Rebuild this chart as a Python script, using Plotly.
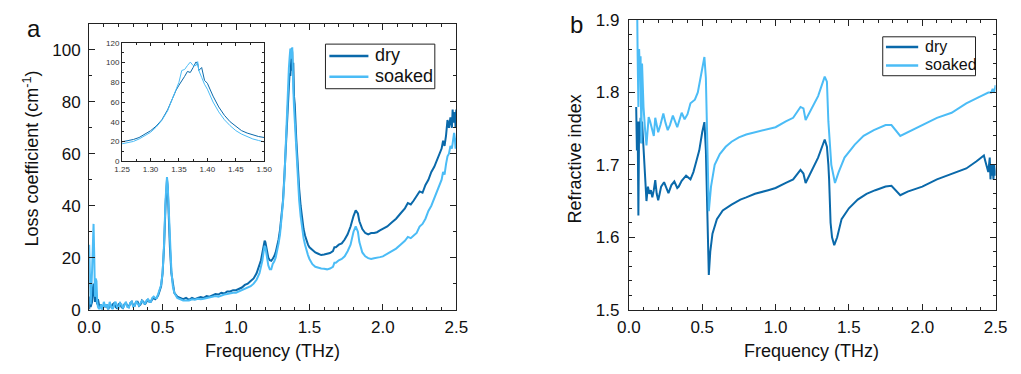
import plotly.graph_objects as go

W, H = 1021, 374

# ---------------- Panel a: loss coefficient (cm^-1) ----------------
FREQ_A_LOW = [0.00, 0.005, 0.01, 0.02, 0.025, 0.03, 0.035, 0.04, 0.045, 0.05, 0.055, 0.06, 0.07, 0.08, 0.09,
              0.10, 0.11, 0.12, 0.13, 0.14, 0.15, 0.16, 0.17, 0.18, 0.19, 0.20, 0.21, 0.22, 0.23, 0.24, 0.25,
              0.26, 0.27, 0.28, 0.29, 0.30, 0.31, 0.32, 0.33, 0.34, 0.35, 0.36, 0.37, 0.38, 0.39, 0.40, 0.41,
              0.42, 0.43, 0.44, 0.45, 0.46, 0.47, 0.48, 0.49, 0.50, 0.51, 0.52, 0.525, 0.53, 0.535, 0.54, 0.55,
              0.56, 0.57, 0.58, 0.60, 0.62, 0.64, 0.66, 0.68, 0.70, 0.72, 0.74, 0.76, 0.78, 0.80, 0.82, 0.84,
              0.86, 0.88, 0.90, 0.92, 0.94, 0.96, 0.98, 1.00, 1.02, 1.04, 1.06, 1.08, 1.10, 1.12, 1.14, 1.16,
              1.17, 1.18, 1.19, 1.195, 1.20, 1.21, 1.22, 1.23, 1.24]
DRY_A_LOW = [0, 5, 1, 3, 8, 10, 6, 3, 5, 4, 2, 4, 1, 2, 0,
             2, 1, 2, 0, 2, 1, 2, 2.5, 1, 0.5, 2, 2.5, 1, 0.5, 2, 2.5,
             1.5, 1, 2.5, 3, 1.5, 1.5, 3, 3, 1.5, 2, 3.5, 3, 2, 3, 4, 3,
             3, 4, 4.5, 4, 4.5, 5.5, 7, 9, 14, 24, 40, 48, 50, 47, 38, 24,
             14, 9, 6.5, 5, 4.5, 4, 4.5, 3.8, 4.5, 4, 4.5, 4.8, 4.5, 5.2, 5, 5.5,
             6, 5.8, 6.5, 6.2, 7, 7, 7.5, 7.5, 8, 8.5, 9.5, 10, 11, 12, 14, 17,
             19, 22, 25.5, 26.5, 26, 23, 20, 19, 18.8]
SOAK_A_LOW = [25, 10, 2, 15, 30, 33, 20, 5, 12, 11, 3, 1, 0, 2, 0,
              3, 1, 2, 0, 3, 1, 0, 2, 3, 1, 0.5, 2.5, 2, 0.5, 1.5, 3,
              1, 0.8, 2.5, 3, 1.2, 1.5, 3.2, 2.5, 1.5, 2.5, 3.5, 2.5, 2.2, 3.5, 4, 3,
              3, 4.5, 5, 4.5, 4.5, 6, 7.5, 9.5, 14, 25, 42, 49, 51, 48, 40, 26,
              15, 9, 6.5, 4.5, 4, 3.5, 3.5, 3.5, 4, 3.8, 4.2, 4, 4.2, 4.5, 4.8, 5,
              5.2, 5, 5.5, 5.8, 6, 6.3, 6.5, 6.5, 7, 7.5, 8, 8.5, 9, 10, 11.5, 14,
              16, 19, 23, 24.5, 24, 20, 17, 15.5, 15.5]

# Peak region (also shown in the inset)
FREQ_PEAK = [1.25, 1.26, 1.27, 1.28, 1.29, 1.30, 1.31, 1.32, 1.33, 1.335, 1.34, 1.345, 1.35, 1.355, 1.36,
             1.365, 1.37, 1.375, 1.38, 1.383, 1.385, 1.39, 1.395, 1.40, 1.41, 1.42, 1.43, 1.44, 1.45, 1.46,
             1.47, 1.48, 1.49, 1.50]
DRY_PEAK = [19.6, 20.5, 22, 24, 27, 30.8, 35.5, 42, 52, 58.5, 66, 72, 77, 81, 86,
            91, 90, 95, 100.7, 99, 92, 95, 82, 79, 66, 55, 46.5, 40, 35, 31,
            28.5, 26.5, 25, 24]
SOAK_PEAK = [17.6, 18.5, 20, 22.5, 25.5, 29.2, 34.5, 41.4, 51, 58, 65, 72, 80, 92, 93,
             97, 100.5, 97, 97, 101, 92, 85, 78, 73, 60, 50, 42, 36, 31, 27.5,
             25, 22.5, 21, 19.5]

FREQ_A_HIGH = [1.52, 1.54, 1.56, 1.58, 1.60, 1.62, 1.64, 1.66, 1.67, 1.68, 1.69, 1.70, 1.72, 1.74, 1.76,
               1.78, 1.80, 1.815, 1.83, 1.84, 1.86, 1.88, 1.90, 1.92, 1.94, 1.96, 1.98, 2.00, 2.03, 2.06,
               2.09, 2.12, 2.15, 2.17, 2.19, 2.21, 2.23, 2.25, 2.27, 2.29, 2.31, 2.33, 2.35, 2.37, 2.39,
               2.40, 2.41, 2.42, 2.43, 2.44, 2.45, 2.46, 2.47, 2.475, 2.48, 2.485, 2.49, 2.495, 2.50]
DRY_A_HIGH = [23, 22, 21.5, 21, 21.2, 21.5, 21.8, 22.5, 24, 24, 24.5, 25, 25.5, 27, 29,
              32, 36, 38.2, 37, 34, 31, 29.5, 29, 29.5, 29.5, 29.8, 30.5, 31, 32, 33.5,
              35, 37, 39, 41, 40.5, 42, 44, 45.5, 45, 48, 50, 53, 55, 58, 61,
              62, 65, 63, 67, 73, 70, 74, 70, 77, 72, 75, 76, 70, 77]
SOAK_A_HIGH = [17.5, 16.5, 16, 15.8, 15.7, 15.5, 15.8, 16.5, 18, 18, 18.5, 19, 19.5, 20.5, 22.5,
               25, 30, 32, 30, 26, 22, 20.5, 19.8, 19.5, 19.8, 19.9, 20.2, 20.5, 21.5, 22.5,
               23.5, 25, 26.5, 28, 27.5, 28.5, 29.5, 32, 33, 35, 38, 40, 43, 46, 49,
               50, 53, 52, 56, 59, 60, 63, 62, 64, 66, 68, 66, 62, 66]

# ---------------- Panel b: refractive index ----------------
FREQ_B_DRY = [0.05, 0.055, 0.06, 0.065, 0.07, 0.075, 0.08, 0.085, 0.09, 0.095, 0.10, 0.105, 0.11, 0.12, 0.13,
              0.14, 0.15, 0.16, 0.17, 0.18, 0.19, 0.20, 0.21, 0.22, 0.24, 0.26, 0.27, 0.29, 0.31, 0.33,
              0.34, 0.36, 0.39, 0.42, 0.44, 0.46, 0.48, 0.50, 0.515, 0.525, 0.535, 0.545, 0.555, 0.57, 0.60,
              0.64, 0.70, 0.76, 0.80, 0.86, 0.95, 1.00, 1.07, 1.12, 1.17, 1.19, 1.205, 1.24, 1.29, 1.335,
              1.35, 1.36, 1.365, 1.375, 1.385, 1.40, 1.42, 1.45, 1.50, 1.56, 1.62, 1.68, 1.75, 1.79, 1.85,
              1.90, 2.00, 2.10, 2.20, 2.30, 2.37, 2.42, 2.43, 2.44, 2.45, 2.46, 2.465, 2.47, 2.475, 2.48,
              2.485, 2.49, 2.495, 2.50]
N_DRY = [1.78, 1.72, 1.76, 1.63, 1.76, 1.74, 1.765, 1.73, 1.76, 1.74, 1.72, 1.70, 1.69, 1.65, 1.67,
         1.66, 1.665, 1.655, 1.665, 1.679, 1.66, 1.651, 1.66, 1.67, 1.676, 1.665, 1.661, 1.672, 1.677, 1.668,
         1.670, 1.678, 1.685, 1.68, 1.69, 1.705, 1.72, 1.745, 1.759, 1.72, 1.63, 1.548, 1.58, 1.605, 1.625,
         1.637, 1.645, 1.652, 1.655, 1.66, 1.665, 1.668, 1.675, 1.68, 1.693, 1.688, 1.675, 1.69, 1.71, 1.735,
         1.725, 1.70, 1.68, 1.62, 1.60, 1.589, 1.60, 1.625, 1.64, 1.652, 1.66, 1.665, 1.67, 1.671, 1.658,
         1.663, 1.670, 1.68, 1.687, 1.695, 1.705, 1.713, 1.705, 1.695, 1.69, 1.71, 1.68, 1.70, 1.685, 1.70,
         1.68, 1.70, 1.69, 1.685]

FREQ_B_SOAK = [0.05, 0.055, 0.06, 0.065, 0.07, 0.075, 0.08, 0.085, 0.09, 0.095, 0.10, 0.11, 0.12, 0.125, 0.135,
               0.145, 0.15, 0.16, 0.17, 0.18, 0.19, 0.20, 0.215, 0.235, 0.25, 0.265, 0.28, 0.30, 0.315, 0.33,
               0.345, 0.36, 0.38, 0.40, 0.42, 0.45, 0.47, 0.49, 0.50, 0.515, 0.525, 0.535, 0.545, 0.56, 0.585,
               0.62, 0.66, 0.70, 0.75, 0.80, 0.86, 0.95, 1.00, 1.07, 1.12, 1.17, 1.19, 1.205, 1.24, 1.29,
               1.335, 1.35, 1.36, 1.37, 1.38, 1.405, 1.43, 1.47, 1.54, 1.60, 1.67, 1.75, 1.79, 1.85, 1.90,
               2.00, 2.10, 2.20, 2.30, 2.40, 2.45, 2.47, 2.48, 2.49, 2.50]
N_SOAK = [1.92, 1.95, 1.85, 1.78, 1.86, 1.83, 1.85, 1.73, 1.84, 1.79, 1.78, 1.75, 1.727, 1.74, 1.766,
          1.76, 1.755, 1.745, 1.74, 1.765, 1.755, 1.745, 1.755, 1.771, 1.758, 1.748, 1.755, 1.768, 1.76, 1.752,
          1.762, 1.772, 1.763, 1.77, 1.785, 1.79, 1.80, 1.82, 1.83, 1.849, 1.82, 1.72, 1.636, 1.67, 1.70,
          1.715, 1.725, 1.732, 1.738, 1.742, 1.745, 1.75, 1.752, 1.76, 1.765, 1.78, 1.778, 1.762, 1.775, 1.795,
          1.822, 1.815, 1.76, 1.72, 1.70, 1.675, 1.69, 1.71, 1.728, 1.74, 1.748, 1.755, 1.755, 1.74, 1.745,
          1.755, 1.765, 1.772, 1.785, 1.795, 1.80, 1.80, 1.805, 1.80, 1.81]

SERIES_NAMES = ["dry", "soaked"]
X_TICKS = [0.0, 0.5, 1.0, 1.5, 2.0, 2.5]
X_TICK_TEXT = ["0.0", "0.5", "1.0", "1.5", "2.0", "2.5"]
INSET_X_TICKS = [1.25, 1.30, 1.35, 1.40, 1.45, 1.50]
INSET_X_TEXT = ["1.25", "1.30", "1.35", "1.40", "1.45", "1.50"]

DRY_COLOR = "#0a69aa"
SOAK_COLOR = "#4bbcf6"
COLORS = [DRY_COLOR, SOAK_COLOR]
FONT = "Liberation Sans, Arial, sans-serif"
INK = "#111"

freq_a = FREQ_A_LOW + FREQ_PEAK + FREQ_A_HIGH
dry_a = DRY_A_LOW + DRY_PEAK + DRY_A_HIGH
soak_a = SOAK_A_LOW + SOAK_PEAK + SOAK_A_HIGH


def px_x(p):
    return p / W


def px_y(p):
    return 1 - p / H


fig = go.Figure()

# Panel a
fig.add_trace(go.Scatter(x=freq_a, y=dry_a, mode="lines", name=SERIES_NAMES[0],
                         line=dict(color=DRY_COLOR, width=2), xaxis="x", yaxis="y"))
fig.add_trace(go.Scatter(x=freq_a, y=soak_a, mode="lines", name=SERIES_NAMES[1],
                         line=dict(color=SOAK_COLOR, width=2), xaxis="x", yaxis="y"))
# Inset
fig.add_trace(go.Scatter(x=FREQ_PEAK, y=DRY_PEAK, mode="lines", name=SERIES_NAMES[0],
                         line=dict(color=DRY_COLOR, width=1), xaxis="x3", yaxis="y3"))
fig.add_trace(go.Scatter(x=FREQ_PEAK, y=SOAK_PEAK, mode="lines", name=SERIES_NAMES[1],
                         line=dict(color=SOAK_COLOR, width=1), xaxis="x3", yaxis="y3"))
# Panel b
fig.add_trace(go.Scatter(x=FREQ_B_DRY, y=N_DRY, mode="lines", name=SERIES_NAMES[0],
                         line=dict(color=DRY_COLOR, width=2), xaxis="x2", yaxis="y2"))
fig.add_trace(go.Scatter(x=FREQ_B_SOAK, y=N_SOAK, mode="lines", name=SERIES_NAMES[1],
                         line=dict(color=SOAK_COLOR, width=2), xaxis="x2", yaxis="y2"))

axis_common = dict(showline=True, linecolor="#222", linewidth=1, mirror="allticks",
                   ticks="inside", ticklen=6, tickcolor="#222", tickwidth=1,
                   showgrid=False, zeroline=False,
                   tickfont=dict(family=FONT, size=17, color=INK))

fig.update_layout(
    width=W, height=H,
    margin=dict(l=0, r=0, t=0, b=0),
    paper_bgcolor="white", plot_bgcolor="white",
    font=dict(family=FONT, color=INK),
    showlegend=False,
    xaxis=dict(axis_common, domain=[px_x(79), px_x(455)], range=[0, 2.5], anchor="y",
               tickvals=X_TICKS, ticktext=X_TICK_TEXT, ticklabelstandoff=2,
               minor=dict(dtick=0.1, ticks="inside", ticklen=3, tickcolor="#222")),
    yaxis=dict(axis_common, domain=[px_y(316.7), px_y(15.7)], range=[0, 110], anchor="x",
               dtick=20, ticklabelstandoff=4,
               minor=dict(dtick=10, ticks="inside", ticklen=3, tickcolor="#222")),
    xaxis2=dict(axis_common, domain=[px_x(631.7), px_x(1007.3)], range=[0, 2.5], anchor="y2",
                tickvals=X_TICKS, ticktext=X_TICK_TEXT, ticklabelstandoff=2,
                minor=dict(dtick=0.1, ticks="inside", ticklen=3, tickcolor="#222")),
    yaxis2=dict(axis_common, domain=[px_y(316.7), px_y(11.7)], range=[1.5, 1.9], anchor="x2",
                dtick=0.1, tickformat=".1f", ticklabelstandoff=5,
                minor=dict(dtick=0.02, ticks="inside", ticklen=3, tickcolor="#222")),
    xaxis3=dict(axis_common, domain=[px_x(112.7), px_x(258.3)], range=[1.25, 1.5], anchor="y3",
                tickvals=INSET_X_TICKS, ticktext=INSET_X_TEXT, ticklen=3,
                tickfont=dict(family=FONT, size=8, color="#333"),
                minor=dict(dtick=0.025, ticks="inside", ticklen=2, tickcolor="#222")),
    yaxis3=dict(axis_common, domain=[px_y(160.3), px_y(35.7)], range=[0, 120], anchor="x3",
                dtick=20, ticklen=3,
                tickfont=dict(family=FONT, size=8, color="#333"),
                minor=dict(dtick=10, ticks="inside", ticklen=2, tickcolor="#222")),
)

shapes = []
annotations = []

# Hand-drawn legend boxes: (box x0, x1, y0, y1, line x0, x1, text x, item y's, font size)
legend_specs = [
    (321, 433, 37, 84, 325, 365, 370, [49.5, 71.5], 18),
    (891.7, 986.7, 29.3, 70.3, 895, 928, 933, [40, 59.5], 16),
]
for bx0, bx1, by0, by1, lx0, lx1, tx, ys, fs in legend_specs:
    shapes.append(dict(type="rect", xref="paper", yref="paper",
                       x0=px_x(bx0), x1=px_x(bx1), y0=px_y(by1), y1=px_y(by0),
                       line=dict(color="#222", width=1), fillcolor="white", layer="above"))
    for name, col, yy in zip(SERIES_NAMES, COLORS, ys):
        shapes.append(dict(type="line", xref="paper", yref="paper",
                           x0=px_x(lx0), x1=px_x(lx1), y0=px_y(yy), y1=px_y(yy),
                           line=dict(color=col, width=2.5), layer="above"))
        annotations.append(dict(text=name, x=px_x(tx), y=px_y(yy - 1), xanchor="left", yanchor="middle",
                                font=dict(size=fs, family=FONT, color=INK)))

annotations += [
    dict(text="a", x=px_x(23), y=px_y(21), font=dict(size=24, family=FONT, color=INK)),
    dict(text="b", x=px_x(578), y=px_y(16), font=dict(size=24, family=FONT, color=INK)),
    dict(text="Frequency (THz)", x=px_x(267), y=px_y(360), font=dict(size=18, family=FONT, color=INK)),
    dict(text="Frequency (THz)", x=px_x(819), y=px_y(360), font=dict(size=18, family=FONT, color=INK)),
    dict(text="Loss coefficient (cm<sup>-1</sup>)", x=px_x(20), y=px_y(158), textangle=-90,
         font=dict(size=18, family=FONT, color=INK)),
    dict(text="Refractive index", x=px_x(577), y=px_y(158), textangle=-90,
         font=dict(size=18, family=FONT, color=INK)),
]
for a in annotations:
    a.setdefault("xanchor", "center")
    a.setdefault("yanchor", "middle")
    a.update(xref="paper", yref="paper", showarrow=False)

fig.update_layout(shapes=shapes, annotations=annotations)

fig.write_html("out.html")
